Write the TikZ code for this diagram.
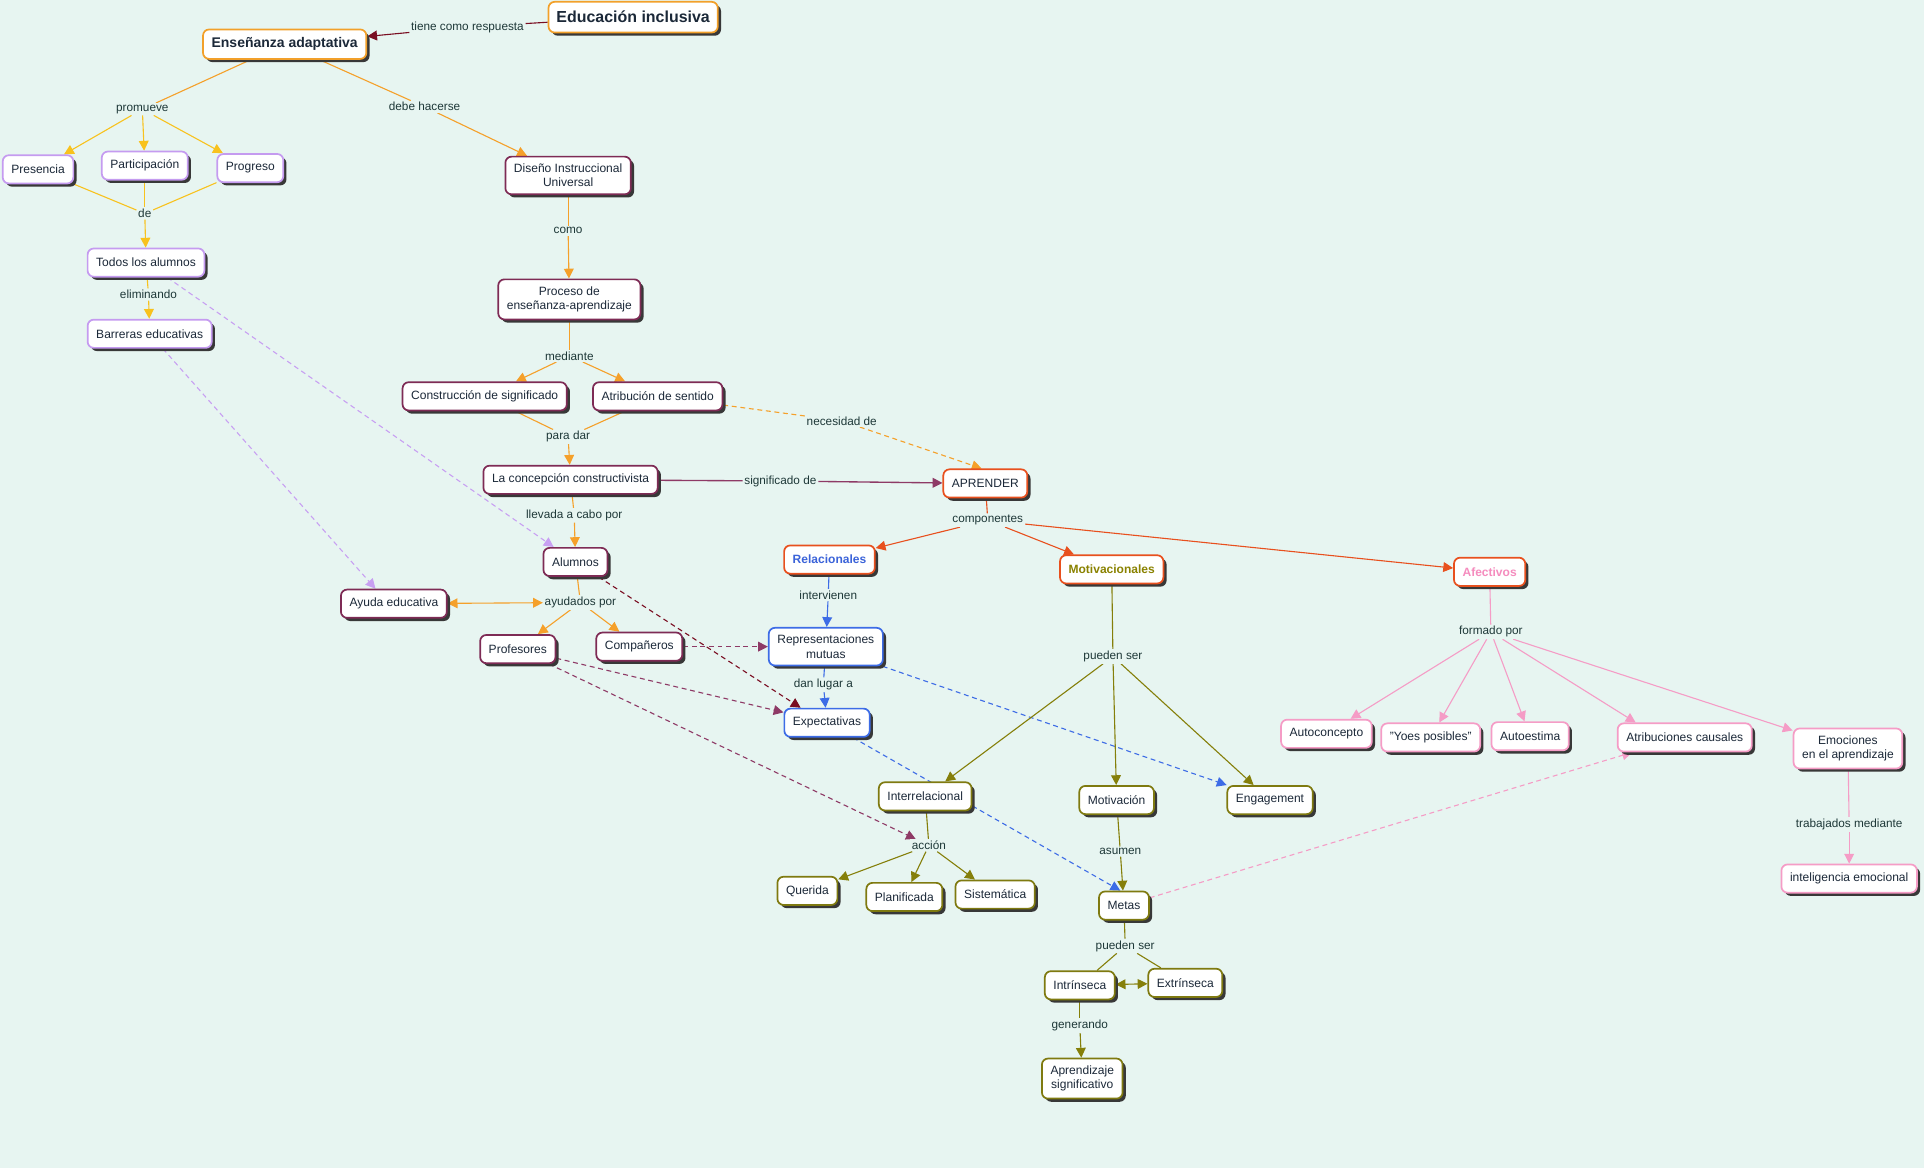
\documentclass[tikz,border=0pt]{standalone}
\usepackage{fontspec}
\setmainfont{Liberation Sans}
\usetikzlibrary{arrows.meta,shadows}
\definecolor{bg}{HTML}{E7F5F1}
\definecolor{txt}{HTML}{1B2838}
\definecolor{labtxt}{HTML}{1E3838}
\definecolor{bOr}{HTML}{F2A02A}
\definecolor{bLav}{HTML}{C59BF0}
\definecolor{bMag}{HTML}{7E2B55}
\definecolor{bRed}{HTML}{E8501E}
\definecolor{bBlue}{HTML}{3D6CE6}
\definecolor{bOl}{HTML}{7F7A10}
\definecolor{bPink}{HTML}{F59CC6}
\definecolor{cOr}{HTML}{F5A02A}
\definecolor{cYe}{HTML}{F8C21E}
\definecolor{cLav}{HTML}{C8A0F2}
\definecolor{cMag}{HTML}{8E3A66}
\definecolor{cDR}{HTML}{7A0E22}
\definecolor{cRed}{HTML}{E8501E}
\definecolor{cBlue}{HTML}{3D6CE6}
\definecolor{cOl}{HTML}{857F0A}
\definecolor{cPink}{HTML}{F59CC6}
\definecolor{tRel}{HTML}{3B63D9}
\definecolor{tMot}{HTML}{8A8200}
\definecolor{tAfe}{HTML}{F58CBE}
\pgfdeclarelayer{bgfill}
\pgfdeclarelayer{background}
\pgfsetlayers{bgfill,background,main}
\begin{document}
\begin{tikzpicture}[x=1pt,y=-1pt,
  cbox/.style={draw, rounded corners=5pt, fill=white, line width=1.4pt,
    inner xsep=7pt, inner ysep=6pt, minimum height=23pt,
    font=\fontsize{9.8}{11.5}\selectfont, text=txt, align=center,
    drop shadow={shadow xshift=2.6pt, shadow yshift=-2.6pt, opacity=1, fill=black!78}},
  gOr/.style={cbox, draw=bOr},
  gLav/.style={cbox, draw=bLav},
  gMag/.style={cbox, draw=bMag},
  gRed/.style={cbox, draw=bRed},
  gBlue/.style={cbox, draw=bBlue},
  gOl/.style={cbox, draw=bOl},
  gPink/.style={cbox, draw=bPink},
  lab/.style={fill=bg, inner sep=1.3pt, font=\fontsize{9.6}{11}\selectfont, text=labtxt},
  lk/.style={line width=0.9pt},
  arr/.style={-{Triangle[length=8pt,width=8pt]}},
  darr/.style={{Triangle[length=8pt,width=8pt]}-{Triangle[length=8pt,width=8pt]}},
  dsh/.style={dash pattern=on 4pt off 3pt}
]
\begin{pgfonlayer}{bgfill}
\fill[bg] (0,0) rectangle (1568,952);
\end{pgfonlayer}
\useasboundingbox (0,0) rectangle (1568,952);

% ---------- concepts ----------
\node[gOr, font=\fontsize{13}{15}\selectfont\bfseries, minimum height=25pt, inner xsep=6.5pt] (edu) at (516,14) {Educación inclusiva};
\node[gOr, font=\fontsize{11.4}{13}\selectfont\bfseries, minimum height=24pt] (ens) at (232,36) {Enseñanza adaptativa};
\node[gLav] (pres) at (31,138) {Presencia};
\node[gLav] (part) at (118,135) {Participación};
\node[gLav] (prog) at (204,137) {Progreso};
\node[gLav] (todos) at (119,214) {Todos los alumnos};
\node[gLav] (barr) at (122,272) {Barreras educativas};
\node[gMag] (dis) at (463,143) {Diseño Instruccional\\Universal};
\node[gMag] (proc) at (464,244) {Proceso de\\enseñanza-aprendizaje};
\node[gMag] (cons) at (395,323) {Construcción de significado};
\node[gMag] (atr) at (536,323) {Atribución de sentido};
\node[gMag] (conc) at (465,391) {La concepción constructivista};
\node[gMag] (alum) at (469,458) {Alumnos};
\node[gMag] (ayuda) at (321,492) {Ayuda educativa};
\node[gMag] (prof) at (422,529) {Profesores};
\node[gMag] (comp) at (521,527) {Compañeros};
\node[gRed] (apr) at (803,394) {APRENDER};
\node[gRed, font=\fontsize{9.8}{11.5}\selectfont\bfseries, text=tRel] (rel) at (676,456) {Relacionales};
\node[gRed, font=\fontsize{9.8}{11.5}\selectfont\bfseries, text=tMot] (mot) at (906,464) {Motivacionales};
\node[gRed, font=\fontsize{9.8}{11.5}\selectfont\bfseries, text=tAfe] (afe) at (1214,466) {Afectivos};
\node[gBlue] (rep) at (673,527) {Representaciones\\mutuas};
\node[gBlue] (exp) at (674,589) {Expectativas};
\node[gOl] (inter) at (754,649) {Interrelacional};
\node[gOl] (motiv) at (910,652) {Motivación};
\node[gOl] (eng) at (1035,652) {Engagement};
\node[gOl] (quer) at (658,726) {Querida};
\node[gOl] (plan) at (737,731) {Planificada};
\node[gOl] (sist) at (811,729) {Sistemática};
\node[gOl] (metas) at (916,738) {Metas};
\node[gOl] (intr) at (880,803) {Intrínseca};
\node[gOl] (extr) at (966,801) {Extrínseca};
\node[gOl] (aprs) at (882,879) {Aprendizaje\\significativo};
\node[gPink] (autoc) at (1081,598) {Autoconcepto};
\node[gPink] (yoes) at (1166,601) {"Yoes posibles"};
\node[gPink] (autoe) at (1247,600) {Autoestima};
\node[gPink] (atc) at (1373,601) {Atribuciones causales};
\node[gPink] (emo) at (1506,610) {Emociones\\en el aprendizaje};
\node[gPink] (intel) at (1507,716) {inteligencia emocional};

% ---------- linking phrases ----------
\node[lab] (l1) at (381,22) {tiene como respuesta};
\node[lab] (prom) at (116,89) {promueve};
\node[lab] (debe) at (346,87) {debe hacerse};
\node[lab] (de) at (118,174) {de};
\node[lab] (elim) at (121,240) {eliminando};
\node[lab] (como) at (463,188) {como};
\node[lab] (med) at (464,290) {mediante};
\node[lab] (pd) at (463,356) {para dar};
\node[lab] (sig) at (636,392) {significado de};
\node[lab] (nec) at (686,343) {necesidad de};
\node[lab] (llev) at (468,420) {llevada a cabo por};
\node[lab] (ayud) at (473,491) {ayudados por};
\node[lab] (compo) at (805,424) {componentes};
\node[lab] (interv) at (675,485) {intervienen};
\node[lab] (dan) at (671,558) {dan lugar a};
\node[lab] (ps1) at (907,535) {pueden ser};
\node[lab] (fp) at (1215,515) {formado por};
\node[lab] (trab) at (1507,672) {trabajados mediante};
\node[lab] (acc) at (757,689) {acción};
\node[lab] (asum) at (913,694) {asumen};
\node[lab] (ps2) at (917,771) {pueden ser};
\node[lab] (gen) at (880,836) {generando};

% ---------- connectors ----------
\begin{pgfonlayer}{background}
\draw[lk, cDR] (edu) -- (l1);
\draw[lk, cDR, arr] (l1) -- (ens);
\draw[lk, cOr] (ens) -- (prom);
\draw[lk, cYe, arr] (prom) -- (pres);
\draw[lk, cYe, arr] (prom) -- (part);
\draw[lk, cYe, arr] (prom) -- (prog);
\draw[lk, cYe] (pres) -- (de);
\draw[lk, cYe] (part) -- (de);
\draw[lk, cYe] (prog) -- (de);
\draw[lk, cYe, arr] (de) -- (todos);
\draw[lk, cYe] (todos) -- (elim);
\draw[lk, cYe, arr] (elim) -- (barr);
\draw[lk, cLav, dsh, arr] (todos) -- ([xshift=9pt]alum.north west);
\draw[lk, cLav, dsh, arr] (barr) -- ([xshift=-15pt]ayuda.north);
\draw[lk, cOr] (ens) -- (debe);
\draw[lk, cOr, arr] (debe) -- (dis);
\draw[lk, cOr] (dis) -- (como);
\draw[lk, cOr, arr] (como) -- (proc);
\draw[lk, cOr] (proc) -- (med);
\draw[lk, cOr, arr] (med) -- (cons);
\draw[lk, cOr, arr] (med) -- (atr);
\draw[lk, cOr] (cons) -- (pd);
\draw[lk, cOr] (atr) -- (pd);
\draw[lk, cOr, arr] (pd) -- (conc);
\draw[lk, cOr] (conc) -- (llev);
\draw[lk, cOr, arr] (llev) -- (alum);
\draw[lk, cOr] (alum) -- (ayud);
\draw[lk, cOr, arr] (ayud) -- (prof);
\draw[lk, cOr, arr] (ayud) -- (comp);
\draw[lk, cOr, darr] (ayuda) -- (ayud);
\draw[lk, cOr, dsh] (atr) -- (nec);
\draw[lk, cOr, dsh, arr] (nec) -- ([xshift=-3pt]apr.north);
\draw[lk, cMag, line width=1.1pt] (conc) -- (sig);
\draw[lk, cMag, line width=1.1pt, arr] (sig) -- (apr);
\draw[lk, cMag, dsh, arr] (comp) -- (rep);
\draw[lk, cMag, dsh, arr] (prof) -- (exp);
\draw[lk, cMag, dsh, arr] (prof) -- (acc);
\draw[lk, cDR, dsh, arr] (alum) -- ([xshift=14pt]exp.north west);
\draw[lk, cRed] (apr) -- (compo);
\draw[lk, cRed, arr] (compo) -- (rel);
\draw[lk, cRed, arr] (compo) -- (mot);
\draw[lk, cRed, arr] (compo) -- (afe);
\draw[lk, cBlue] (rel) -- (interv);
\draw[lk, cBlue, arr] (interv) -- (rep);
\draw[lk, cBlue] (rep) -- (dan);
\draw[lk, cBlue, arr] (dan) -- (exp);
\draw[lk, cBlue, dsh, arr] (rep) -- (eng);
\draw[lk, cBlue, dsh, arr] (exp) -- ([xshift=-3pt]metas.north);
\draw[lk, cOl] (mot) -- (ps1);
\draw[lk, cOl, arr] (ps1) -- (inter);
\draw[lk, cOl, arr] (ps1) -- (motiv);
\draw[lk, cOl, arr] (ps1) -- (eng);
\draw[lk, cOl] (inter) -- (acc);
\draw[lk, cOl, arr] (acc) -- (quer);
\draw[lk, cOl, arr] (acc) -- (plan);
\draw[lk, cOl, arr] (acc) -- (sist);
\draw[lk, cOl] (motiv) -- (asum);
\draw[lk, cOl, arr] (asum) -- (metas);
\draw[lk, cOl] (metas) -- (ps2);
\draw[lk, cOl] (ps2) -- (intr);
\draw[lk, cOl] (ps2) -- (extr);
\draw[lk, cOl, darr] (intr) -- (extr);
\draw[lk, cOl] (intr) -- (gen);
\draw[lk, cOl, arr] (gen) -- (aprs);
\draw[lk, cPink] (afe) -- (fp);
\draw[lk, cPink, arr] (fp) -- (autoc);
\draw[lk, cPink, arr] (fp) -- (yoes);
\draw[lk, cPink, arr] (fp) -- (autoe);
\draw[lk, cPink, arr] (fp) -- ([xshift=-40pt]atc.north);
\draw[lk, cPink, arr] (fp) -- (emo);
\draw[lk, cPink] (emo) -- (trab);
\draw[lk, cPink, arr] (trab) -- (intel);
\draw[lk, cPink, dsh, arr] (metas) -- ([xshift=-43pt]atc.south);
\end{pgfonlayer}
\end{tikzpicture}
\end{document}
